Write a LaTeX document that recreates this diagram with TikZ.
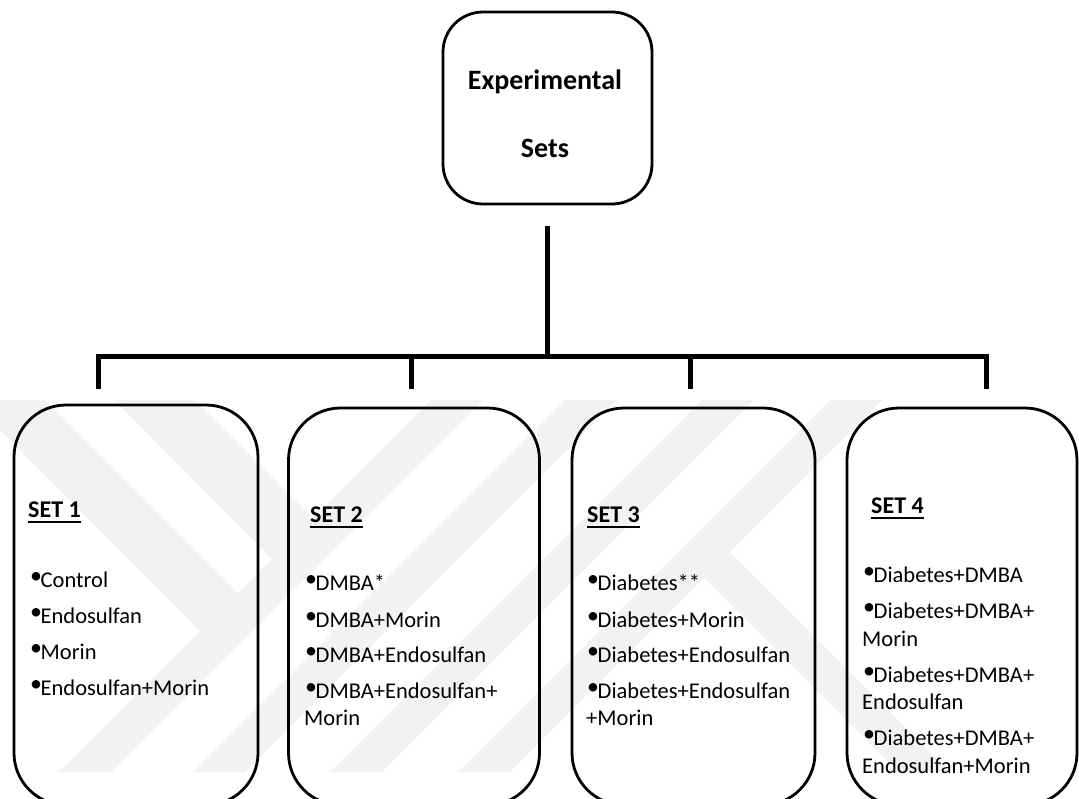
\documentclass[tikz,border=0pt]{standalone}
\usepackage{fontspec}
\setmainfont{Carlito}
\newcommand{\bul}{\makebox[10.5pt][l]{\raisebox{3.5pt}{\fontsize{24}{24}\selectfont •}}}
\begin{document}
\begin{tikzpicture}[x=1pt,y=-1pt,
  wm/.style={fill=black!5},
  setbox/.style={draw=black, line width=2.8pt, rounded corners=52pt, inner sep=0},
  topbox/.style={draw=black, line width=2.8pt, rounded corners=40pt, inner sep=0},
  conn/.style={draw=black, line width=5pt, line join=miter},
  toptext/.style={font=\bfseries\fontsize{28}{34}\selectfont, anchor=base, inner sep=0},
  settitle/.style={font=\bfseries\fontsize{24}{29}\selectfont, anchor=base west, inner sep=0},
  uline/.style={draw=black, line width=1.6pt},
  item/.style={font=\fontsize{22.5}{27}\selectfont, anchor=base west, inner sep=0}]
\useasboundingbox (0,0) rectangle (1079,798);
% faint watermark
\begin{scope}
\clip (0,400) rectangle (1079,772);
\foreach \x in {59,193,330,458}{
  \fill[wm] (\x,772) -- (\x+52,772) -- (\x+424,400) -- (\x+372,400) -- cycle;
}
\fill[wm] (-30,400) -- (45,400) -- (238,593) -- (200,631) -- cycle;
\fill[wm] (114,400) -- (195,400) -- (313,518) -- (272,559) -- cycle;
\fill[wm] (730,552) -- (950,772) -- (898,772) -- (704,578) -- cycle;
\end{scope}
% top box
\node[topbox, minimum width=209pt, minimum height=192pt] (top) at (547.5,108) {};
\node[toptext] (tA) at (545,89) {Experimental};
\node[toptext] (tB) at (545,157) {Sets};
% set boxes
\node[setbox, minimum width=244pt, minimum height=400pt] (b1) at (136,605) {};
\node[setbox, minimum width=251pt, minimum height=397pt] (b2) at (414,606.5) {};
\node[setbox, minimum width=243pt, minimum height=397pt] (b3) at (693.5,606.5) {};
\node[setbox, minimum width=230pt, minimum height=397pt] (b4) at (962,606.5) {};
% connectors
\coordinate (vt) at (547,226);
\coordinate (vb) at (547,356);
\coordinate (j1) at (98,356);
\coordinate (j2) at (411,356);
\coordinate (j3) at (690,356);
\coordinate (j4) at (986,356);
\coordinate (e1) at (98,389);
\coordinate (e2) at (411,389);
\coordinate (e3) at (690,389);
\coordinate (e4) at (986,389);
\draw[conn] (vt) -- (vb);
\draw[conn] (e1) -- (j1) -- (j4) -- (e4);
\draw[conn] (j2) -- (e2);
\draw[conn] (j3) -- (e3);
% titles
\node[settitle] (s1) at (28,517) {SET 1};
\node[settitle] (s2) at (310,522) {SET 2};
\node[settitle] (s3) at (587,522) {SET 3};
\node[settitle] (s4) at (871,513) {SET 4};
\foreach \s in {s1,s2,s3,s4}{
  \draw[uline] ([yshift=-5pt]\s.base west) -- ([yshift=-5pt]\s.base east);
}
% set 1
\node[item] (i11) at (30,587) {\bul Control};
\node[item] (i12) at (30,623) {\bul Endosulfan};
\node[item] (i13) at (30,659) {\bul Morin};
\node[item] (i14) at (30,695) {\bul Endosulfan+Morin};
% set 2
\node[item] (i21) at (305,590) {\bul DMBA*};
\node[item] (i22) at (305,627) {\bul DMBA+Morin};
\node[item] (i23) at (305,662) {\bul DMBA+Endosulfan};
\node[item] (i24) at (305,698) {\bul DMBA+Endosulfan+};
\node[item] (i25) at (304,725) {Morin};
% set 3
\node[item] (i31) at (587,590) {\bul Diabetes**};
\node[item] (i32) at (587,627) {\bul Diabetes+Morin};
\node[item] (i33) at (587,662) {\bul Diabetes+Endosulfan};
\node[item] (i34) at (587,698) {\bul Diabetes+Endosulfan};
\node[item] (i35) at (586,725) {+Morin};
% set 4
\node[item] (i41) at (863,582) {\bul Diabetes+DMBA};
\node[item] (i42) at (863,618) {\bul Diabetes+DMBA+};
\node[item] (i43) at (862,646) {Morin};
\node[item] (i44) at (863,682) {\bul Diabetes+DMBA+};
\node[item] (i45) at (862,709) {Endosulfan};
\node[item] (i46) at (863,745) {\bul Diabetes+DMBA+};
\node[item] (i47) at (862,773) {Endosulfan+Morin};
\end{tikzpicture}
\end{document}
